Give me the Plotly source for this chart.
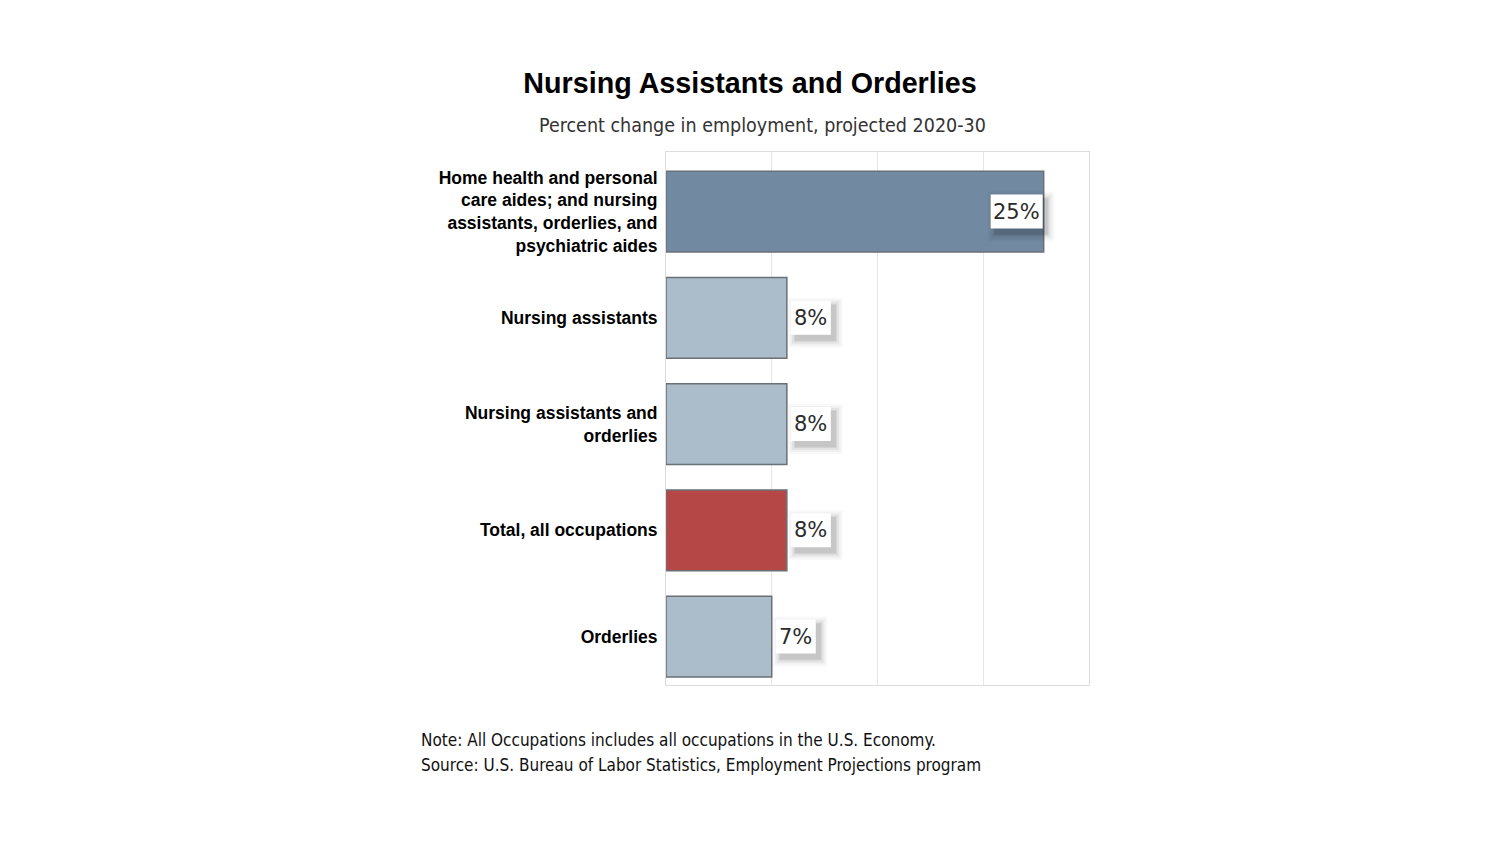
import plotly.graph_objects as go

categories = [
    "Home health and personal<br>care aides; and nursing<br>assistants, orderlies, and<br>psychiatric aides",
    "Nursing assistants",
    "Nursing assistants and<br>orderlies",
    "Total, all occupations",
    "Orderlies",
]
values = [25, 8, 8, 8, 7]
value_labels = ["25%", "8%", "8%", "8%", "7%"]
colors = ["#7189a1", "#abbccb", "#abbccb", "#b54746", "#abbccb"]

title = "Nursing Assistants and Orderlies"
subtitle = "Percent change in employment, projected 2020-30"
note_lines = [
    "Note: All Occupations includes all occupations in the U.S. Economy.",
    "Source: U.S. Bureau of Labor Statistics, Employment Projections program",
]

W, H = 1500, 844
OFF = 8  # page body margin
L, R, T, B = 666 - OFF, 1089 - OFF, 152 - OFF, 685 - OFF


def px(x):
    return (x - OFF - L) / (R - L)


def py(y):
    return (B - (y - OFF)) / (B - T)


fig = go.Figure()
fig.add_trace(go.Bar(
    y=categories, x=values, orientation="h",
    marker=dict(color=colors, line=dict(color="#6a7076", width=1.5)),
    width=0.76, hoverinfo="skip",
))

annotations = []
shapes = []
label_font = dict(family="DejaVu Sans", size=21, color="#2b2b2b")
BH = 34
for i, (cat, v, lab) in enumerate(zip(categories, values, value_labels)):
    inside = v > 20
    bw = 52 if len(lab) == 3 else 40
    if inside:
        x0, x1 = -1 - bw, -1
    else:
        x0, x1 = 4, 4 + bw
    # soft shadow (pixel-sized shapes anchored at the bar end)
    for s, a in [(7, 0.025), (5, 0.035), (3, 0.05), (1, 0.07), (0, 0.06)]:
        shapes.append(dict(
            type="rect", xref="x", yref="y", xsizemode="pixel", ysizemode="pixel",
            xanchor=v, yanchor=i,
            x0=x0 + 4 - s, x1=x1 + 5 + s, y0=-BH / 2 - 6 - s, y1=BH / 2 - 4 + s,
            fillcolor=f"rgba(0,0,0,{a})", line=dict(width=0), layer="above",
        ))
    shapes.append(dict(
        type="rect", xref="x", yref="y", xsizemode="pixel", ysizemode="pixel",
        xanchor=v, yanchor=i, x0=x0, x1=x1, y0=-BH / 2, y1=BH / 2,
        fillcolor="white", line=dict(width=0), layer="above",
    ))
    annotations.append(dict(
        x=v, y=cat, xref="x", yref="y", text=lab, showarrow=False,
        xanchor="center", yanchor="middle", xshift=(x0 + x1) / 2,
        font=label_font,
    ))

annotations.append(dict(
    x=px(762), y=py(126), xref="paper", yref="paper", text=subtitle,
    showarrow=False, xanchor="center", yanchor="middle",
    font=dict(family="DejaVu Sans Condensed", size=19.5, color="#333333"),
))
for k, line in enumerate(note_lines):
    annotations.append(dict(
        x=px(419), y=py(740 + 25 * k), xref="paper", yref="paper", text=line,
        showarrow=False, xanchor="left", yanchor="middle",
        font=dict(family="DejaVu Sans Condensed", size=17, color="#111111"),
    ))

fig.update_layout(
    width=W, height=H,
    margin=dict(l=L, r=W - R, t=T, b=H - B),
    paper_bgcolor="white", plot_bgcolor="white",
    showlegend=False,
    title=dict(text=f"<b>{title}</b>", x=(750 - OFF) / W, xanchor="center",
               y=1 - (83 - OFF) / H, yanchor="middle",
               font=dict(family="Liberation Sans, Arial", size=28.7, color="black")),
    xaxis=dict(range=[0, 28], dtick=7, showticklabels=False, showgrid=True,
               gridcolor="#e6e6e6", gridwidth=1, zeroline=False,
               showline=True, linecolor="#dddddd", mirror=True, ticks=""),
    yaxis=dict(range=[4.456, -0.56], showgrid=False, showline=True,
               linecolor="#dddddd", mirror=True, ticks="outside", ticklen=4,
               tickcolor="rgba(0,0,0,0)",
               tickfont=dict(family="Liberation Sans, Arial", size=17.5, color="black"),
               tickprefix="<b>", ticksuffix="</b>"),
    annotations=annotations,
    shapes=shapes,
)

fig.write_html("out.html")
